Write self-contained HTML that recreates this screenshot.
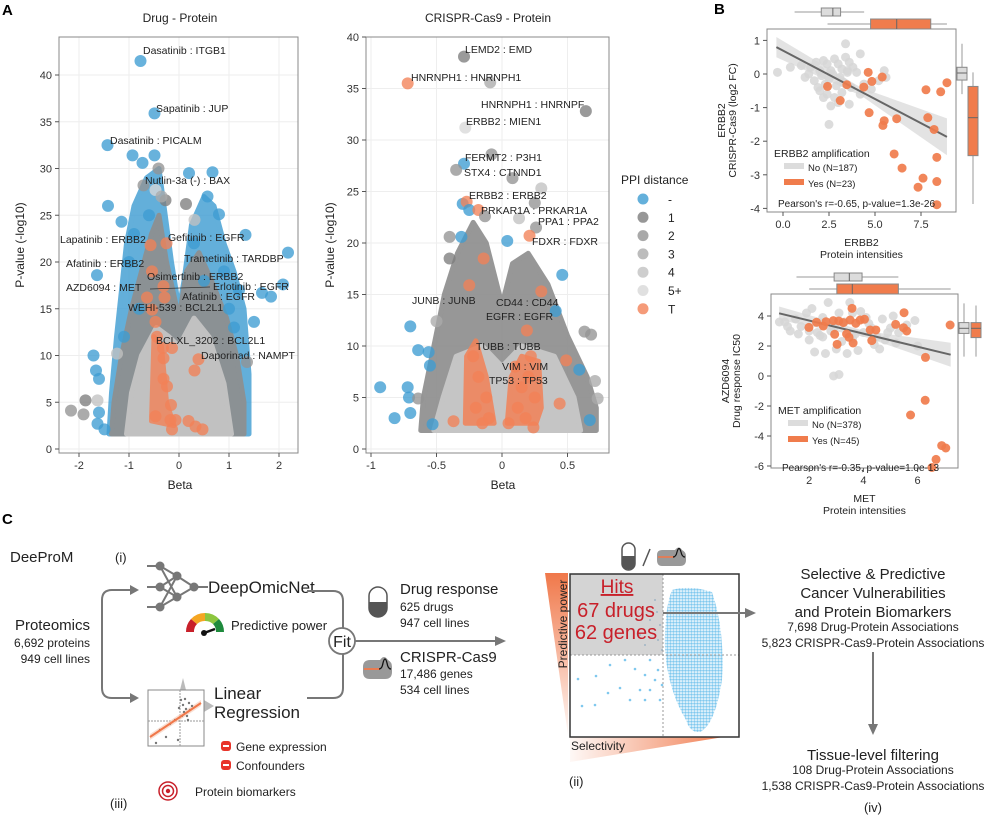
<!DOCTYPE html>
<html><head><meta charset="utf-8">
<style>
html,body{margin:0;padding:0;background:#fff;}
svg{display:block;font-family:"Liberation Sans",Arial,sans-serif;}
</style></head>
<body>
<svg id="fig" width="1008" height="815" viewBox="0 0 1008 815" xmlns="http://www.w3.org/2000/svg">
<g id="static">
  <text x="2" y="15" font-size="15" font-weight="bold">A</text>
  <text x="714" y="14" font-size="15" font-weight="bold">B</text>
  <text x="2" y="524" font-size="15" font-weight="bold">C</text>
</g>
<g id="volL"></g>
<g id="volR"></g>
<g id="sctT"></g>
<g id="sctB"></g>
<g id="diag">
  <text x="10" y="562" font-size="15" fill="#222">DeeProM</text>
  <text x="115" y="562" font-size="13" fill="#222">(i)</text>
  <text x="90" y="630" font-size="15" fill="#222" text-anchor="end">Proteomics</text>
  <text x="90" y="647" font-size="12" fill="#222" text-anchor="end">6,692 proteins</text>
  <text x="90" y="663" font-size="12" fill="#222" text-anchor="end">949 cell lines</text>
  <path d="M137,590 H112 Q102,590 102,600 V688 Q102,698 112,698 H137" fill="none" stroke="#777" stroke-width="2"/>
  <polygon points="139,590 130,585 130,595" fill="#777"/>
  <polygon points="139,698 130,693 130,703" fill="#777"/>
  <g stroke="#777" stroke-width="2" fill="none">
    <line x1="147" y1="566" x2="160" y2="566"/><line x1="147" y1="587" x2="160" y2="587"/><line x1="147" y1="607" x2="160" y2="607"/>
    <line x1="160" y1="566" x2="177" y2="576"/><line x1="160" y1="566" x2="177" y2="597"/>
    <line x1="160" y1="587" x2="177" y2="576"/><line x1="160" y1="587" x2="177" y2="597"/>
    <line x1="160" y1="607" x2="177" y2="576"/><line x1="160" y1="607" x2="177" y2="597"/>
    <line x1="177" y1="576" x2="194" y2="587"/><line x1="177" y1="597" x2="194" y2="587"/>
    <line x1="194" y1="587" x2="208" y2="587"/>
  </g>
  <g fill="#777">
    <circle cx="160" cy="566" r="4.5"/><circle cx="160" cy="587" r="4.5"/><circle cx="160" cy="607" r="4.5"/>
    <circle cx="177" cy="576" r="4.5"/><circle cx="177" cy="597" r="4.5"/><circle cx="194" cy="587" r="4.5"/>
  </g>
  <text x="208" y="593" font-size="17" fill="#222">DeepOmicNet</text>
  <g>
    <path d="M186,632 A19,19 0 0,1 191,619 L197,624 A11,11 0 0,0 194,632 Z" fill="#c8202a"/>
    <path d="M191,619 A19,19 0 0,1 205,613 L205,621 A11,11 0 0,0 197,624 Z" fill="#f5a623"/>
    <path d="M205,613 A19,19 0 0,1 219,619 L213,624 A11,11 0 0,0 205,621 Z" fill="#8cc63f"/>
    <path d="M219,619 A19,19 0 0,1 224,632 L216,632 A11,11 0 0,0 213,624 Z" fill="#1e8a3c"/>
    <line x1="204" y1="633" x2="215" y2="629" stroke="#111" stroke-width="2.5"/>
    <circle cx="204" cy="633" r="3" fill="#111"/>
  </g>
  <text x="231" y="630" font-size="13" fill="#222">Predictive power</text>
  <path d="M307,591 H333 Q343,591 343,601 V628" fill="none" stroke="#777" stroke-width="2"/>
  <path d="M307,698 H333 Q343,698 343,688 V654" fill="none" stroke="#777" stroke-width="2"/>
  <circle cx="342" cy="641" r="13" fill="#fff" stroke="#777" stroke-width="1.8"/>
  <text x="342" y="647" font-size="16" text-anchor="middle" fill="#222">Fit</text>
  <line x1="355" y1="641" x2="497" y2="641" stroke="#777" stroke-width="2"/>
  <polygon points="506,641 495,636 495,646" fill="#777"/>
  <g>
    <path d="M180,690 L183,678 L186,690 Z" fill="#bbb"/>
    <path d="M204,700 L214,706 L204,712 Z" fill="#bbb"/>
    <rect x="148" y="690" width="56" height="56" fill="#fff" stroke="#888" stroke-width="1"/>
    <line x1="148" y1="721" x2="204" y2="721" stroke="#999" stroke-dasharray="2,1"/>
    <line x1="180" y1="690" x2="180" y2="746" stroke="#999" stroke-dasharray="2,1"/>
    <polygon points="150,734 201,700 201,706 150,740" fill="#f6c9b4" opacity="0.6"/>
    <g fill="#777">
      <circle cx="183" cy="705" r="1.2"/><circle cx="186" cy="709" r="1.2"/><circle cx="189" cy="703" r="1.2"/><circle cx="184" cy="712" r="1.2"/>
      <circle cx="190" cy="710" r="1.2"/><circle cx="182" cy="716" r="1.2"/><circle cx="187" cy="716" r="1.2"/><circle cx="179" cy="708" r="1.2"/>
      <circle cx="192" cy="706" r="1.2"/><circle cx="175" cy="720" r="1.2"/><circle cx="170" cy="724" r="1.2"/><circle cx="160" cy="730" r="1.2"/>
      <circle cx="166" cy="737" r="1.2"/><circle cx="185" cy="699" r="1.2"/><circle cx="178" cy="740" r="1.2"/><circle cx="156" cy="743" r="1.2"/>
      <circle cx="188" cy="720" r="1.2"/><circle cx="181" cy="700" r="1.2"/>
    </g>
    <line x1="150" y1="737" x2="201" y2="703" stroke="#f0784a" stroke-width="2"/>
  </g>
  <text x="214" y="699" font-size="17" fill="#222">Linear</text>
  <text x="214" y="718" font-size="17" fill="#222">Regression</text>
  <rect x="221" y="741" width="10" height="10" rx="3" fill="#e8352b"/>
  <line x1="223" y1="746" x2="229" y2="746" stroke="#fff" stroke-width="2"/>
  <text x="236" y="751" font-size="12" fill="#222">Gene expression</text>
  <rect x="221" y="760" width="10" height="10" rx="3" fill="#e8352b"/>
  <line x1="223" y1="765" x2="229" y2="765" stroke="#fff" stroke-width="2"/>
  <text x="236" y="770" font-size="12" fill="#222">Confounders</text>
  <g fill="none" stroke="#c8202a" stroke-width="1.5">
    <circle cx="168" cy="791" r="9"/><circle cx="168" cy="791" r="5.5"/>
  </g>
  <circle cx="168" cy="791" r="2.2" fill="#c8202a"/>
  <text x="195" y="796" font-size="12" fill="#222">Protein biomarkers</text>
  <text x="110" y="808" font-size="13" fill="#222">(iii)</text>
  <g>
    <rect x="369" y="587" width="18" height="30" rx="9" fill="#fff" stroke="#555" stroke-width="1.5"/>
    <path d="M369,602 H387 V608 A9,9 0 0,1 369,608 Z" fill="#555"/>
  </g>
  <text x="400" y="594" font-size="15" fill="#222">Drug response</text>
  <text x="400" y="611" font-size="12" fill="#222">625 drugs</text>
  <text x="400" y="627" font-size="12" fill="#222">947 cell lines</text>
  <g>
    <path d="M363,667 Q363,660 370,660 H380 Q384,654 388,660 Q392,662 392,667 V672 Q392,679 385,679 H370 Q363,679 363,672 Z" fill="#999"/>
    <line x1="364" y1="669" x2="380" y2="669" stroke="#f0784a" stroke-width="1.8"/>
    <path d="M379,669 Q382,669 383,663 Q385,655 387,663 Q388,669 391,669" fill="none" stroke="#111" stroke-width="1.3"/>
  </g>
  <text x="400" y="662" font-size="15" fill="#222">CRISPR-Cas9</text>
  <text x="400" y="678" font-size="12" fill="#222">17,486 genes</text>
  <text x="400" y="694" font-size="12" fill="#222">534 cell lines</text>
  <defs>
    <linearGradient id="gv" x1="0" y1="0" x2="0" y2="1"><stop offset="0" stop-color="#f0784a"/><stop offset="1" stop-color="#f0784a" stop-opacity="0.05"/></linearGradient>
    <linearGradient id="gh" x1="0" y1="0" x2="1" y2="0"><stop offset="0" stop-color="#f0784a" stop-opacity="0.05"/><stop offset="1" stop-color="#f0784a"/></linearGradient>
    <pattern id="dots" width="3" height="3" patternUnits="userSpaceOnUse"><circle cx="1.5" cy="1.5" r="1.3" fill="#7fc8ee"/></pattern>
    <clipPath id="cloudclip"><path d="M672,590 Q690,585 712,592 Q725,630 722,680 Q715,725 700,732 Q690,733 686,720 Q668,690 665,650 Q664,610 672,590 Z"/></clipPath>
  </defs>
  <polygon points="545,573 568,573 568,735" fill="url(#gv)"/>
  <polygon points="570,762 736,735 570,737" fill="url(#gh)"/>
  <g>
    <rect x="622" y="543" width="13" height="27" rx="6.5" fill="#fff" stroke="#555" stroke-width="1.5"/>
    <path d="M622,556 H635 V563 A6.5,6.5 0 0,1 622,563 Z" fill="#555"/>
  </g>
  <line x1="643" y1="566" x2="650" y2="549" stroke="#555" stroke-width="1.5"/>
  <g>
    <path d="M657,555 Q657,550 662,550 H675 Q679,545 682,550 Q686,552 686,556 V560 Q686,566 680,566 H662 Q657,566 657,560 Z" fill="#999"/>
    <line x1="658" y1="557" x2="674" y2="557" stroke="#f0784a" stroke-width="1.6"/>
    <path d="M673,557 Q676,557 677,552 Q679,545 681,552 Q682,557 685,557" fill="none" stroke="#111" stroke-width="1.2"/>
  </g>
  <rect x="570" y="574" width="169" height="163" fill="#fff"/>
  <rect x="570" y="574" width="93" height="81" fill="#d4d4d4"/>
  <rect x="650" y="580" width="85" height="155" fill="url(#dots)" clip-path="url(#cloudclip)"/>
  <g fill="#7fc8ee">
    <circle cx="578" cy="679" r="1.3"/><circle cx="596" cy="676" r="1.3"/><circle cx="610" cy="665" r="1.3"/><circle cx="620" cy="688" r="1.3"/>
    <circle cx="635" cy="669" r="1.3"/><circle cx="640" cy="690" r="1.3"/><circle cx="645" cy="700" r="1.3"/><circle cx="608" cy="693" r="1.3"/>
    <circle cx="595" cy="705" r="1.3"/><circle cx="650" cy="660" r="1.3"/><circle cx="655" cy="680" r="1.3"/><circle cx="660" cy="700" r="1.3"/>
    <circle cx="625" cy="660" r="1.3"/><circle cx="582" cy="706" r="1.3"/><circle cx="630" cy="700" r="1.3"/><circle cx="650" cy="690" r="1.3"/>
    <circle cx="658" cy="670" r="1.3"/><circle cx="662" cy="685" r="1.3"/><circle cx="645" cy="675" r="1.3"/>
  </g>
  <g fill="#9fb4c4">
    <circle cx="655" cy="600" r="1"/><circle cx="650" cy="620" r="1"/><circle cx="658" cy="640" r="1"/><circle cx="645" cy="645" r="1"/>
    <circle cx="660" cy="625" r="1"/><circle cx="640" cy="635" r="1"/><circle cx="657" cy="612" r="1"/><circle cx="662" cy="650" r="1"/>
  </g>
  <line x1="663" y1="574" x2="663" y2="737" stroke="#999" stroke-dasharray="2,2"/>
  <line x1="570" y1="655" x2="739" y2="655" stroke="#999" stroke-dasharray="2,2"/>
  <rect x="570" y="574" width="169" height="163" fill="none" stroke="#333" stroke-width="1.5"/>
  <text x="617" y="593" font-size="19" fill="#c8202a" text-anchor="middle" text-decoration="underline">Hits</text>
  <text x="616" y="617" font-size="20" fill="#c8202a" text-anchor="middle">67 drugs</text>
  <text x="616" y="639" font-size="20" fill="#c8202a" text-anchor="middle">62 genes</text>
  <text transform="translate(567,624) rotate(-90)" font-size="12" fill="#222" text-anchor="middle">Predictive power</text>
  <text x="571" y="750" font-size="12" fill="#222">Selectivity</text>
  <text x="569" y="786" font-size="13" fill="#222">(ii)</text>
  <line x1="663" y1="613" x2="748" y2="613" stroke="#777" stroke-width="2"/>
  <polygon points="756,613 745,608 745,618" fill="#777"/>
  <g font-size="15" fill="#222" text-anchor="middle">
    <text x="873" y="579">Selective &amp; Predictive</text>
    <text x="873" y="598">Cancer Vulnerabilities</text>
    <text x="873" y="617">and Protein Biomarkers</text>
    <text x="873" y="631" font-size="12">7,698 Drug-Protein Associations</text>
    <text x="873" y="647" font-size="12">5,823 CRISPR-Cas9-Protein Associations</text>
  </g>
  <line x1="873" y1="652" x2="873" y2="726" stroke="#777" stroke-width="2"/>
  <polygon points="873,735 868,724 878,724" fill="#777"/>
  <g font-size="15" fill="#222" text-anchor="middle">
    <text x="873" y="760">Tissue-level filtering</text>
    <text x="873" y="774" font-size="12">108 Drug-Protein Associations</text>
    <text x="873" y="790" font-size="12">1,538 CRISPR-Cas9-Protein Associations</text>
    <text x="873" y="812" font-size="13">(iv)</text>
  </g>
</g>
</svg>
<script>
// ===== Data: Drug-Protein volcano =====
const drugBeta = [-0.77,-0.49,-1.43,-0.93,-0.49,-0.73,0.2,0.67,-0.41,-0.71,-0.47,-0.27,0.14,-1.42,0.57,-1.15,0.31,0.8,1.33,2.18,-1.64,1.84,2.08,1.66,-1.71,-1.24,-1.66,-1.6,-1.87,-2.16,-1.91,-1.63,-1.6,-1.49,-1.63,1.5,1.36,-1.0,-0.9,-0.8,0.9,1.0,1.1,1.2,-1.1,-0.6,0.5,0.3,-0.35,
  -0.57,-0.25,-0.54,-0.31,-0.64,-0.29,-0.54,-0.47,-0.44,-0.32,-0.14,-0.31,0.39,0.31,-0.31,-0.24,-0.16,-0.47,-0.17,-0.07,0.19,0.33,0.47,-0.14];
const drugP = [41.5,35.9,32.5,31.4,31.4,30.6,29.5,29.6,30,28.2,27.7,26.6,26.2,26,27,24.3,24.5,25.1,22.9,21,18.6,16.3,17.6,16.7,10,10.2,8.4,7.5,5.2,4.1,3.7,5.2,3.9,2.1,2.7,13.6,9.3,20,23,15,19,15,13,17,12,25,18,22,27,
  21.8,22,19,17.4,16.2,16.2,14.9,13.6,12,10.8,10.8,9.7,9.6,8.4,7.5,6.7,4.7,3.5,3.1,3.1,3.0,2.4,2.1,2.1];
const drugCat = ["-","-","-","-","-","-","-","-","2","2","5+","1","1","-","-","-","4","-","-","-","-","-","-","-","-","4","-","-","1","2","2","4","-","-","-","-","2","-","-","-","-","-","-","-","-","-","-","-","3",
  "T","T","T","T","T","T","T","T","T","T","T","T","T","T","T","T","T","T","T","T","T","T","T","T"];
const drugLabels = ["Dasatinib : ITGB1","Sapatinib : JUP","Dasatinib : PICALM","Nutlin-3a (-) : BAX","Lapatinib : ERBB2","Gefitinib : EGFR","Trametinib : TARDBP","Afatinib : ERBB2","Osimertinib : ERBB2","AZD6094 : MET","Erlotinib : EGFR","Afatinib : EGFR","WEHI-539 : BCL2L1","BCLXL_3202 : BCL2L1","Daporinad : NAMPT"];
// ===== Data: CRISPR-Protein volcano =====
const crBeta = [-0.29,-0.72,-0.09,0.64,-0.28,-0.08,-0.29,-0.35,0.08,0.3,-0.3,-0.27,-0.25,-0.18,-0.13,0.13,0.25,0.26,0.21,0.04,-0.4,-0.31,-0.4,-0.14,0.46,-0.25,0.3,0.41,-0.7,-0.5,-0.64,-0.56,-0.55,-0.93,-0.72,-0.71,-0.64,-0.7,-0.82,-0.53,-0.37,0.19,0.49,0.44,0.24,0.63,0.68,0.73,0.71,0.67,0.59,
  -0.22,-0.18,-0.12,-0.2,-0.1,0.1,0.15,0.2,0.25,0.12,0.18,0.05,-0.15,0.22];
const crP = [38.1,35.5,35.6,32.8,31.2,28.6,27.7,27.1,26.3,25.3,23.8,24,23.2,23.2,22.6,22.4,23.9,21.5,20.7,20.2,20.6,20.6,18.5,18.5,16.9,15.9,15.3,13.4,11.9,12.4,9.6,9.4,8.1,6,6,5,4.9,3.5,3.0,2.4,2.7,11.5,8.6,4.4,2.1,11.4,11.1,4.9,6.6,2.8,7.7,
  9,7,5,4,3,8,6,7,5,4,3,2.5,2.5,9];
const crCat = ["1","T","3","1","5+","2","-","2","2","4","-","T","-","T","2","4","2","2","T","-","2","-","1","T","-","T","T","-","-","3","-","-","-","-","-","-","2","-","-","-","T","T","T","T","T","2","2","3","3","-","-",
  "T","T","T","T","T","T","T","T","T","T","T","T","T","T"];
// ===== Data: ERBB2 scatter =====
const erbbNoX = [-0.3,0.4,1.2,1.5,1.8,2.0,2.2,2.4,2.6,2.8,3.0,3.2,3.4,3.6,3.8,4.0,4.2,1.0,1.4,1.7,2.1,2.3,2.5,2.7,2.9,3.1,3.3,3.5,3.7,2.0,2.4,2.8,3.2,3.6,4.4,4.8,5.2,2.6,3.0,2.5,3.5,3.4,4.2,5.5,2.2,1.9,5.6];
const erbbNoY = [0.05,0.2,-0.1,0.2,0.35,0.1,0.4,0.3,0.1,0.45,0.3,0.15,0.5,0.35,0.2,0.05,0.6,0.25,0.0,-0.2,-0.05,-0.3,-0.15,0.0,-0.35,-0.1,-0.25,0.05,-0.4,-0.5,-0.6,-0.7,-0.55,-0.9,-0.3,-0.45,-0.2,-0.95,-0.85,-1.5,0.1,0.9,-0.6,0.1,-0.7,-0.4,-0.1];
const erbbYesX = [2.42,3.11,3.47,4.39,4.63,4.83,5.39,4.68,5.5,5.43,6.18,6.04,6.47,7.77,8.57,8.91,7.87,8.21,8.36,7.61,7.34,8.36,8.36];
const erbbYesY = [-0.37,-0.79,-0.32,-0.39,0.05,-0.22,-0.09,-1.15,-1.39,-1.53,-1.33,-2.38,-2.8,-0.47,-0.53,-0.26,-1.3,-1.65,-2.48,-3.1,-3.37,-3.2,-3.89];
const erbbFit = [-0.36,0.8,8.91,-1.87];
const erbbNoBox = [0.63,2.08,2.71,3.13,4.41];
const erbbYesBox = [2.42,4.76,6.18,8.03,8.91];
const erbbNoBoxY = [-0.6,-0.18,0.03,0.2,0.9];
const erbbYesBoxY = [-3.87,-2.43,-1.3,-0.37,0.05];
// ===== Data: MET scatter =====
const metNoX = [0.9,1.3,1.5,1.7,1.9,2.1,2.3,2.5,2.7,2.9,3.1,3.3,3.5,3.7,3.9,4.1,4.3,4.5,4.7,4.9,5.1,5.3,5.6,5.9,1.2,1.6,2.0,2.4,2.8,3.2,3.6,4.0,4.4,4.8,5.2,2.2,2.6,3.0,3.4,3.8,4.6,2.0,3.6,2.9,3.1,6.0,1.1,2.5,4.2,5.0];
const metNoY = [3.6,3.0,3.8,3.3,4.2,4.5,2.9,3.9,4.9,3.2,4.2,3.6,4.9,2.8,4.3,3.9,3.2,2.6,3.8,2.9,4.0,2.9,3.4,3.7,3.3,2.8,2.4,2.7,3.0,2.3,2.5,2.9,2.1,2.4,2.2,1.6,1.5,1.8,1.5,1.7,1.8,3.0,4.2,0.0,0.1,2.0,3.6,2.6,3.5,3.2];
const metYesX = [1.99,2.27,2.52,2.62,2.89,2.94,3.03,3.09,3.26,3.38,3.47,3.51,3.58,3.62,3.72,3.88,4.04,4.25,4.31,4.46,5.19,5.48,5.6,5.5,7.2,6.29,6.28,5.74,6.89,7.04,6.68,6.53];
const metYesY = [3.24,3.58,3.33,3.62,3.69,2.78,2.11,3.67,3.56,2.8,2.58,3.73,4.51,2.2,3.51,3.73,3.78,3.07,2.36,3.07,3.44,3.22,3.0,4.22,3.4,1.24,-1.62,-2.6,-4.64,-4.8,-5.56,-6.1];
const metFit = [0.89,4.18,7.22,1.42];
const metNoBox = [1.53,2.92,3.48,3.95,5.29];
const metYesBox = [2.0,3.02,3.59,5.29,7.22];
const metNoBoxY = [1.29,2.84,3.18,3.56,4.84];
const metYesBoxY = [1.29,2.56,3.18,3.56,4.7];

const NS="http://www.w3.org/2000/svg";
const COL={"-":"#3d9cd2","1":"#7d7d7d","2":"#949494","3":"#ababab","4":"#c2c2c2","5+":"#d8d8d8","T":"#f28257"};
function mk(parent,tag,attrs,name,txt){
  const e=document.createElementNS(NS,tag);
  for(const k in attrs)e.setAttribute(k,attrs[k]);
  
  
  if(txt!==undefined)e.textContent=txt;
  parent.appendChild(e);return e;
}
function axes(g,sx,sy,x0,x1,y0,y1,xt,yt,fmtx,fmty,grid){
  if(grid){
    xt.forEach(v=>mk(g,'line',{x1:sx(v),x2:sx(v),y1:y0,y2:y1,stroke:'#eee','stroke-width':1},'x-grid'));
    yt.forEach(v=>mk(g,'line',{x1:x0,x2:x1,y1:sy(v),y2:sy(v),stroke:'#eee','stroke-width':1},'y-grid'));
  }
  mk(g,'rect',{x:x0,y:y0,width:x1-x0,height:y1-y0,fill:'none',stroke:'#888','stroke-width':1},'plot-frame');
  xt.forEach(v=>{
    mk(g,'line',{x1:sx(v),x2:sx(v),y1:y1,y2:y1+4,stroke:'#555'},'x-tick');
    mk(g,'text',{x:sx(v),y:y1+16,'font-size':11,'text-anchor':'middle',fill:'#333'},'x-tick-label',fmtx(v));
  });
  yt.forEach(v=>{
    mk(g,'line',{x1:x0-4,x2:x0,y1:sy(v),y2:sy(v),stroke:'#555'},'y-tick');
    mk(g,'text',{x:x0-7,y:sy(v)+4,'font-size':11,'text-anchor':'end',fill:'#333'},'y-tick-label',fmty(v));
  });
}
function poly(g,pts,sx,sy,fill,op,name){
  mk(g,'polygon',{points:pts.map(p=>sx(p[0])+','+sy(p[1])).join(' '),fill:fill,opacity:op,stroke:fill,'stroke-width':5,'stroke-linejoin':'round'},name);
}
// ---- Left volcano ----
(function(){
  const g=document.getElementById('volL');
  const sx=v=>179+v*50, sy=v=>449-v*9.35;
  mk(g,'text',{x:180,y:22,'font-size':12,'text-anchor':'middle',fill:'#222'},'chart-title','Drug - Protein');
  axes(g,sx,sy,59,298,37,453,[-2,-1,0,1,2],[0,5,10,15,20,25,30,35,40],v=>v,v=>v,true);
  mk(g,'text',{x:180,y:489,'font-size':12,'text-anchor':'middle',fill:'#222'},'x-axis-title','Beta');
  mk(g,'text',{transform:'translate(24,245) rotate(-90)','font-size':12,'text-anchor':'middle',fill:'#222'},'y-axis-title','P-value (-log10)');
  poly(g,[[-1.4,1.6],[-1.35,6],[-1.25,12],[-1.15,17],[-1.05,22],[-0.9,26],[-0.65,29],[-0.4,30],[-0.3,26],[-0.15,20],[0,15],[0.1,18],[0.25,24],[0.5,27],[0.7,26],[0.9,22],[1.1,19],[1.3,15],[1.4,8],[1.4,1.6]],sx,sy,'#3d9cd2',0.8,'cloud-ppi-none');
  poly(g,[[-1.35,1.6],[-1.3,5],[-1.15,10],[-0.95,15],[-0.75,19],[-0.55,23],[-0.4,25],[-0.25,20],[0,14],[0.15,19],[0.4,21],[0.65,18],[0.95,14],[1.15,10],[1.3,5],[1.3,1.6]],sx,sy,'#8f8f8f',0.92,'cloud-ppi-near');
  poly(g,[[-1.05,1.6],[-0.95,6],[-0.75,10],[-0.45,13],[-0.2,12],[0,11],[0.3,14],[0.6,12],[0.9,7],[1.05,1.6]],sx,sy,'#c4c4c4',0.95,'cloud-ppi-far');
  poly(g,[[-0.55,3],[-0.5,12],[-0.35,11],[-0.25,5],[-0.1,2.5]],sx,sy,'#f28257',0.8,'cloud-target');
  drugBeta.forEach((b,i)=>{
    mk(g,'circle',{cx:sx(b),cy:sy(drugP[i]),r:6,fill:COL[drugCat[i]],opacity:0.78},'drug-point');
  });
  const lp=[[143,54],[156,112],[110,144],[145,184],[60,243],[168,241],[184,262],[66,267],[147,280],[66,291],[213,290],[182,300],[128,311],[156,344],[201,359]];
  drugLabels.forEach((t,i)=>mk(g,'text',{x:lp[i][0],y:lp[i][1],'font-size':10.5,fill:'#222'},'point-label',t));
  mk(g,'line',{x1:150,y1:289,x2:210,y2:287,stroke:'#333','stroke-width':0.8},'label-leader');
})();
// ---- Right volcano ----
(function(){
  const g=document.getElementById('volR');
  const sx=v=>502+v*131, sy=v=>449-v*10.3;
  mk(g,'text',{x:488,y:22,'font-size':12,'text-anchor':'middle',fill:'#222'},'chart-title','CRISPR-Cas9 - Protein');
  axes(g,sx,sy,366,609,37,453,[-1,-0.5,0,0.5],[0,5,10,15,20,25,30,35,40],v=>v,v=>v,true);
  mk(g,'text',{x:503,y:489,'font-size':12,'text-anchor':'middle',fill:'#222'},'x-axis-title','Beta');
  mk(g,'text',{transform:'translate(334,245) rotate(-90)','font-size':12,'text-anchor':'middle',fill:'#222'},'y-axis-title','P-value (-log10)');
  poly(g,[[-0.62,1.8],[-0.6,5],[-0.52,10],[-0.44,15],[-0.34,19],[-0.22,22],[-0.12,20],[0,14],[0.08,18],[0.2,19],[0.35,16],[0.5,11],[0.65,7],[0.72,4],[0.72,1.8]],sx,sy,'#8f8f8f',0.92,'cloud-ppi-near');
  poly(g,[[-0.52,1.8],[-0.45,5],[-0.35,9],[-0.15,10],[0,8],[0.15,10],[0.4,9],[0.55,5],[0.6,1.8]],sx,sy,'#c8c8c8',0.95,'cloud-ppi-far');
  poly(g,[[-0.28,2.5],[-0.27,9],[-0.2,10.5],[-0.12,7],[-0.06,2.5]],sx,sy,'#f28257',0.85,'cloud-target-left');
  poly(g,[[0.04,2.5],[0.07,7],[0.15,9],[0.28,8.5],[0.3,4],[0.26,2.5]],sx,sy,'#f28257',0.85,'cloud-target-right');
  crBeta.forEach((b,i)=>{
    mk(g,'circle',{cx:sx(b),cy:sy(crP[i]),r:6,fill:COL[crCat[i]],opacity:0.78},'crispr-point');
  });
  const L=[["LEMD2 : EMD",465,53],["HNRNPH1 : HNRNPH1",411,81],["HNRNPH1 : HNRNPF",481,108],["ERBB2 : MIEN1",466,125],["FERMT2 : P3H1",465,161],["STX4 : CTNND1",464,176],["ERBB2 : ERBB2",469,199],["PRKAR1A : PRKAR1A",481,214],["PPA1 : PPA2",538,225],["FDXR : FDXR",532,245],["JUNB : JUNB",412,304],["CD44 : CD44",496,306],["EGFR : EGFR",486,320],["TUBB : TUBB",476,350],["VIM : VIM",502,370],["TP53 : TP53",489,384]];
  L.forEach(l=>mk(g,'text',{x:l[1],y:l[2],'font-size':10.5,fill:'#222'},'point-label',l[0]));
  mk(g,'text',{x:621,y:184,'font-size':12,fill:'#222'},'legend-title','PPI distance');
  const keys=["-","1","2","3","4","5+","T"];
  keys.forEach((k,i)=>{
    const y=199+i*18.3;
    mk(g,'circle',{cx:643,cy:y,r:5.5,fill:COL[k],opacity:0.8},'legend-swatch');
    mk(g,'text',{x:668,y:y+4.5,'font-size':12,fill:'#222'},'legend-entry',k);
  });
})();
function box(g,vals,pos,orient,s,fill,w){
  if(orient==='h'){
    mk(g,'line',{x1:s(vals[0]),x2:s(vals[4]),y1:pos,y2:pos,stroke:'#999'},'box-whisker');
    mk(g,'rect',{x:s(vals[1]),y:pos-w/2,width:s(vals[3])-s(vals[1]),height:w,fill:fill,stroke:'#888'},'box-body');
    mk(g,'line',{x1:s(vals[2]),x2:s(vals[2]),y1:pos-w/2,y2:pos+w/2,stroke:'#666'},'box-median');
  }else{
    mk(g,'line',{y1:s(vals[0]),y2:s(vals[4]),x1:pos,x2:pos,stroke:'#999'},'box-whisker');
    mk(g,'rect',{y:s(vals[3]),x:pos-w/2,height:s(vals[1])-s(vals[3]),width:w,fill:fill,stroke:'#888'},'box-body');
    mk(g,'line',{y1:s(vals[2]),y2:s(vals[2]),x1:pos-w/2,x2:pos+w/2,stroke:'#666'},'box-median');
  }
}
function scatterPanel(id,o){
  const g=document.getElementById(id);
  const sx=o.sx, sy=o.sy;
  axes(g,sx,sy,o.x0,o.x1,o.y0,o.y1,o.xt,o.yt,o.fx,v=>v,false);
  const f=o.fit; const slope=(f[3]-f[1])/(f[2]-f[0]);
  const lineY=x=>f[1]+slope*(x-f[0]);
  const xs=[f[0],(f[0]+f[2])/2,f[2]];
  const bw=[o.band[0],o.band[1],o.band[2]];
  const up=xs.map((x,i)=>sx(x)+','+sy(lineY(x)+bw[i])).join(' ');
  const dn=xs.slice().reverse().map((x,i)=>sx(x)+','+sy(lineY(x)-bw[2-i])).join(' ');
  mk(g,'polygon',{points:up+' '+dn,fill:'#d0d0d0',opacity:0.6},'confidence-band');
  o.noX.forEach((x,i)=>mk(g,'circle',{cx:sx(x),cy:sy(o.noY[i]),r:4.5,fill:'#d6d6d6',opacity:0.85},'no-amp-point'));
  mk(g,'line',{x1:sx(f[0]),y1:sy(f[1]),x2:sx(f[2]),y2:sy(f[3]),stroke:'#666','stroke-width':2},'regression-line');
  o.yesX.forEach((x,i)=>mk(g,'circle',{cx:sx(x),cy:sy(o.yesY[i]),r:4.5,fill:'#f07c4c',opacity:0.92},'amp-point'));
  box(g,o.noBox,o.topY[0],'h',sx,'#dcdcdc',8);
  box(g,o.yesBox,o.topY[1],'h',sx,'#f07c4c',10);
  box(g,o.noBoxY,o.rightX[0],'v',sy,'#dcdcdc',10);
  box(g,o.yesBoxY,o.rightX[1],'v',sy,'#f07c4c',10);
  const L=o.leg;
  mk(g,'text',{x:L[0],y:L[1],'font-size':10.5,fill:'#222'},'legend-title',o.legTitle);
  mk(g,'rect',{x:L[0]+10,y:L[1]+6,width:20,height:6,fill:'#dcdcdc'},'legend-swatch-no');
  mk(g,'text',{x:L[0]+34,y:L[1]+14,'font-size':9.5,fill:'#222'},'legend-entry-no',o.noLab);
  mk(g,'rect',{x:L[0]+10,y:L[1]+22,width:20,height:6,fill:'#f07c4c'},'legend-swatch-yes');
  mk(g,'text',{x:L[0]+34,y:L[1]+30,'font-size':9.5,fill:'#222'},'legend-entry-yes',o.yesLab);
  mk(g,'text',{x:o.pear[0],y:o.pear[1],'font-size':10,fill:'#222'},'correlation-text',o.pearT);
  const cx=(o.x0+o.x1)/2;
  mk(g,'text',{x:cx,y:o.y1+34,'font-size':10.5,'text-anchor':'middle',fill:'#222'},'x-axis-title',o.xl1);
  mk(g,'text',{x:cx,y:o.y1+46,'font-size':10.5,'text-anchor':'middle',fill:'#222'},'x-axis-subtitle','Protein intensities');
  const cy=(o.y0+o.y1)/2;
  mk(g,'text',{transform:`translate(${o.x0-42},${cy}) rotate(-90)`,'font-size':10.5,'text-anchor':'middle',fill:'#222'},'y-axis-title',o.yl1);
  mk(g,'text',{transform:`translate(${o.x0-31},${cy}) rotate(-90)`,'font-size':10.5,'text-anchor':'middle',fill:'#222'},'y-axis-subtitle',o.yl2);
}
scatterPanel('sctT',{sx:v=>783+v*18.4,sy:v=>74-v*33.6,x0:767,x1:956,y0:29,y1:212,xt:[0,2.5,5,7.5],yt:[1,0,-1,-2,-3,-4],fx:v=>v.toFixed(1),
  fit:erbbFit,band:[0.3,0.12,0.55],noX:erbbNoX,noY:erbbNoY,yesX:erbbYesX,yesY:erbbYesY,noBox:erbbNoBox,yesBox:erbbYesBox,noBoxY:erbbNoBoxY,yesBoxY:erbbYesBoxY,
  topY:[12,24],rightX:[962,973],leg:[774,157],legTitle:'ERBB2 amplification',noLab:'No (N=187)',yesLab:'Yes (N=23)',pear:[778,207],pearT:"Pearson's r=-0.65, p-value=1.3e-26",
  xl1:'ERBB2',yl1:'ERBB2',yl2:'CRISPR-Cas9 (log2 FC)'});
scatterPanel('sctB',{sx:v=>755+v*27.1,sy:v=>376-v*15,x0:771,x1:958,y0:294,y1:468,xt:[2,4,6],yt:[4,2,0,-2,-4,-6],fx:v=>v,
  fit:metFit,band:[0.45,0.2,0.8],noX:metNoX,noY:metNoY,yesX:metYesX,yesY:metYesY,noBox:metNoBox,yesBox:metYesBox,noBoxY:metNoBoxY,yesBoxY:metYesBoxY,
  topY:[277,289],rightX:[964,976],leg:[778,414],legTitle:'MET amplification',noLab:'No (N=378)',yesLab:'Yes (N=45)',pear:[782,471],pearT:"Pearson's r=-0.35, p-value=1.0e-13",
  xl1:'MET',yl1:'AZD6094',yl2:'Drug response IC50'});
</script>
</body></html>
